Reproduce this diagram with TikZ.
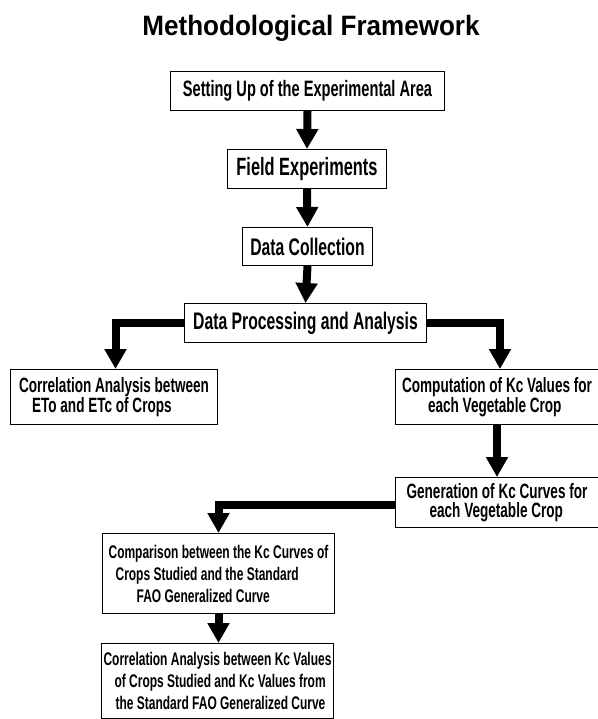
\documentclass[tikz,border=0pt]{standalone}
\usepackage{fontspec}
\usetikzlibrary{arrows.meta}
\newfontfamily\narfont{Liberation Sans}[FakeStretch=0.655]
\newfontfamily\titlefont{Liberation Sans}[FakeStretch=0.93]
\tikzset{
  box/.style={draw, line width=1pt, inner sep=0pt, anchor=north west, align=left},
  bigtxt/.style={font=\narfont\bfseries\fontsize{24}{26}\selectfont},
  midtxt/.style={font=\narfont\bfseries\fontsize{20.7}{19.5}\selectfont},
  smalltxt/.style={font=\narfont\bfseries\fontsize{18.3}{22}\selectfont},
  arr/.style={line width=8pt, -{Triangle[width=21pt,length=20pt]}}
}
\begin{document}
\begin{tikzpicture}[x=1pt,y=-1pt]
\useasboundingbox (0,0) rectangle (597,719);
\node[anchor=base, font=\titlefont\bfseries\fontsize{28}{30}\selectfont] (title) at (311,36) {Methodological Framework};
\node[box, minimum width=274pt, minimum height=39pt, font=\narfont\bfseries\fontsize{22.3}{24}\selectfont] (b1) at (170,71) {Setting Up of the Experimental Area};
\node[box, minimum width=159pt, minimum height=39pt, font=\narfont\bfseries\fontsize{25}{27}\selectfont] (b2) at (227,149) {Field Experiments};
\node[box, bigtxt, minimum width=130pt, minimum height=38pt] (b3) at (242,227) {Data Collection};
\node[box, bigtxt, minimum width=242pt, minimum height=39pt] (b4) at (184,303) {Data Processing and Analysis};
\node[box, midtxt, minimum width=207pt, minimum height=55pt] (b5) at (10,369) {Correlation Analysis between\\\hspace*{13pt}ETo and ETc of Crops};
\node[box, midtxt, minimum width=203pt, minimum height=55pt] (b6) at (395,369) {Computation of Kc Values for\\\hspace*{26pt}each Vegetable Crop};
\node[box, midtxt, minimum width=203pt, minimum height=50pt] (b7) at (395,477) {Generation of Kc Curves for\\\hspace*{23pt}each Vegetable Crop};
\node[box, smalltxt, minimum width=232pt, minimum height=80pt] (b8) at (102,533) {Comparison between the Kc Curves of\\\hspace*{7pt}Crops Studied and the Standard\\\hspace*{28pt}FAO Generalized Curve};
\node[box, smalltxt, minimum width=232pt, minimum height=75pt] (b9) at (101,643) {Correlation Analysis between Kc Values\\\hspace*{11pt}of Crops Studied and Kc Values from\\\hspace*{12pt}the Standard FAO Generalized Curve};
\draw[arr] (b1.south) -- (b2.north);
\draw[arr] (b2.south) -- (b3.north);
\draw[arr] (b3.south) -- (b4.north);
\draw[arr] (b4.west) -| ([xshift=1.5pt]b5.north);
\draw[arr] (b4.east) -| ([xshift=3pt]b6.north);
\draw[arr] (b6.south) -- (b7.north);
\draw[arr] ([yshift=-2pt]b7.west) -| (b8.north);
\draw[arr] (b8.south) -- ([xshift=1pt]b9.north);
\end{tikzpicture}
\end{document}
